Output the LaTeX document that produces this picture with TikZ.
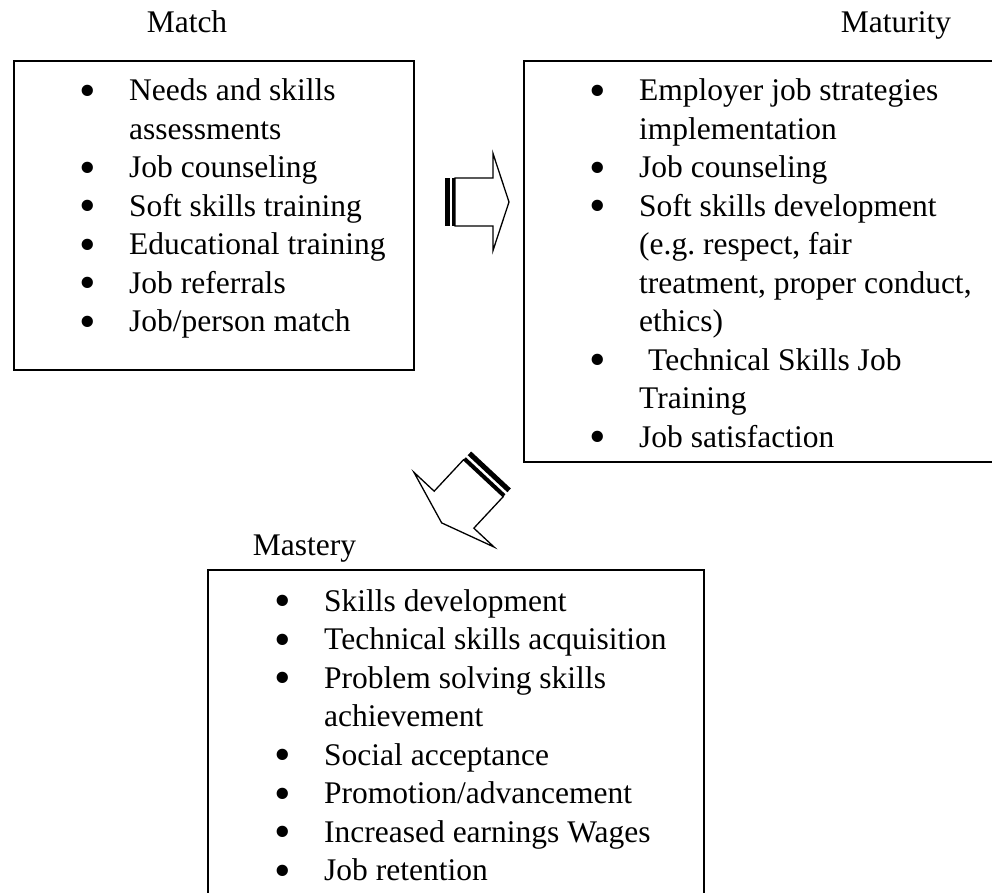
\documentclass[tikz,border=0pt]{standalone}
\usepackage{fontspec}
\setmainfont{Liberation Serif}
\frenchspacing
\tikzset{
  box/.style={draw, line width=1.6pt, rectangle, inner sep=0pt, anchor=north west},
  items/.style={anchor=base west, inner sep=0pt, font=\fontsize{31.5}{38.5}\selectfont},
  ttl/.style={anchor=base, inner sep=0pt, font=\fontsize{31.5}{38.5}\selectfont},
  blk/.style={draw, line width=1.3pt, fill=white, line join=miter},
  stripe/.style={fill=black},
}
\newcommand\bul{\leavevmode\llap{\makebox[0pt]{\smash{\raisebox{-5.5pt}{\scalebox{1.5}{\textbullet}}}}\hspace{41pt}}}
\newcommand\stripedarrowshape{%
  \fill[stripe] (0,-24) rectangle (4.5,24);
  \fill[stripe] (7,-24) rectangle (10,24);
  \draw[blk] (10,-24) -- (48,-24) -- (48,-48.5) -- (64,0) -- (48,48.5) -- (48,24) -- (10,24) -- cycle;
}
\begin{document}
\begin{tikzpicture}[x=1pt,y=-1pt]
\useasboundingbox (0,0) rectangle (992,893);
\clip (0,0) rectangle (992,893);
% boxes
\node[box, minimum width=400pt, minimum height=309pt] (matchbox) at (13,60) {};
\node[box, minimum width=490pt, minimum height=401pt] (maturitybox) at (523,60) {};
\node[box, minimum width=496pt, minimum height=340pt] (masterybox) at (207,569) {};
% titles
\node[ttl] (matchttl) at (187,33) {Match};
\node[ttl] (maturityttl) at (896,33) {Maturity};
\node[ttl] (masteryttl) at (304.5,555) {Mastery};
% items
\node[items] (matchitems) at (129,101) {\parbox[t]{300pt}{%
\bul Needs and skills\\
assessments\\
\bul Job counseling\\
\bul Soft skills training\\
\bul Educational training\\
\bul Job referrals\\
\bul Job/person match}};
\node[items] (maturityitems) at (639,101) {\parbox[t]{350pt}{%
\bul Employer job strategies\\
implementation\\
\bul Job counseling\\
\bul Soft skills development\\
(e.g. respect, fair\\
treatment, proper conduct,\\
ethics)\\
\bul\hspace{9pt}Technical Skills Job\\
Training\\
\bul Job satisfaction}};
\node[items] (masteryitems) at (324,611) {\parbox[t]{370pt}{%
\bul Skills development\\
\bul Technical skills acquisition\\
\bul Problem solving skills\\
achievement\\
\bul Social acceptance\\
\bul Promotion/advancement\\
\bul Increased earnings Wages\\
\bul Job retention}};
% block arrows
\begin{scope}[shift={(445,202)}]
  \stripedarrowshape
\end{scope}
\begin{scope}[shift={(491,470)}, rotate=227, scale=1.13]
  \stripedarrowshape
\end{scope}
\end{tikzpicture}
\end{document}
